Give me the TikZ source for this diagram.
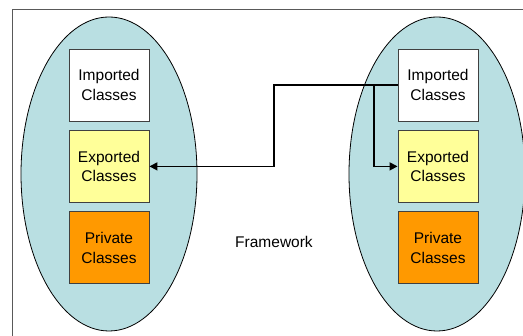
\documentclass[tikz,border=0pt]{standalone}
\usepackage{fontspec}
\setmainfont{Liberation Sans}
\usepackage{tikz}
\usetikzlibrary{shapes}
\usetikzlibrary{arrows.meta}
\usetikzlibrary{positioning}

\definecolor{bundleblue}{HTML}{B9DFE2}
\definecolor{exportyellow}{HTML}{FFFF99}
\definecolor{privateorange}{HTML}{FF9900}

\begin{document}
\begin{tikzpicture}[x=1pt,y=1pt]
				\tikzstyle{bundle}=[ellipse,draw=black,fill=bundleblue,line width=0.8pt,minimum width=176pt,minimum height=314pt,inner sep=0pt]
				\tikzstyle{classbox}=[rectangle,draw=black!75,line width=0.9pt,minimum width=80pt,minimum height=72pt,inner sep=0pt,align=center,font=\fontsize{15.5}{19.5}\selectfont]
				\tikzstyle{link}=[line width=1.6pt,-{Triangle[length=8pt,width=8pt]}]
				\clip (0,0) rectangle (523,336);
				% outer frame
				\draw[black!65,line width=0.8pt] (12.5,0) -- (12.5,327) -- (530,327);
				% the two bundles
				\node[bundle] (lbundle) at (109,162) {};
				\node[bundle] (rbundle) at (437,162) {};
				\node[classbox,fill=white] (limp) at (109,251) {Imported\\Classes};
				\node[classbox,fill=exportyellow,below=8.5pt of limp] (lexp) {Exported\\Classes};
				\node[classbox,fill=privateorange,below=8.5pt of lexp] (lpriv) {Private\\Classes};
				\node[classbox,fill=white] (rimp) at (438,251) {Imported\\Classes};
				\node[classbox,fill=exportyellow,below=8.5pt of rimp] (rexp) {Exported\\Classes};
				\node[classbox,fill=privateorange,below=8.5pt of rexp] (rpriv) {Private\\Classes};
				\node[font=\fontsize{15.5}{19.5}\selectfont] (fw) at (274,94) {Framework};
				% imports
				\coordinate (fork) at (374,0 |- rimp.west);
				\draw[link] (rimp.west) -- (fork) -- (274,0 |- rimp.west) |- (lexp.east);
				\draw[link] (fork) |- (rexp.west);
\end{tikzpicture}
\end{document}
